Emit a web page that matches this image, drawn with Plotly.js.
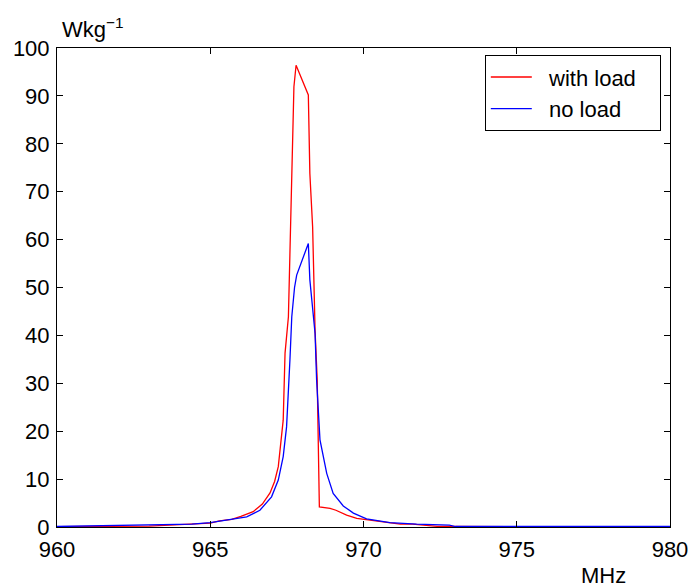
<!DOCTYPE html>
<html>
<head>
<meta charset="utf-8">
<script src="https://cdn.plot.ly/plotly-3.0.1.min.js"></script>
<style>html,body{margin:0;padding:0;background:#fff;}#chart{width:694px;height:587px;}</style>
</head>
<body>
<div id="chart"></div>
<script>
var freqWithLoad = [960, 963.0, 964.0, 965.0, 965.3, 965.7, 966.0, 966.4, 966.7, 966.95, 967.1, 967.22, 967.38, 967.44, 967.55, 967.6, 967.63, 967.66, 967.71, 967.73, 967.8, 968.2, 968.25, 968.34, 968.42, 968.49, 968.56, 968.91, 969.1, 969.45, 969.78, 970.0, 970.65, 971.2, 971.6, 972.4, 972.8, 980];
var powerWithLoad = [0.05, 0.2, 0.5, 0.8, 1.3, 1.6, 2.2, 3.2, 4.8, 7.1, 9.5, 12.6, 22.3, 36.3, 43.9, 55.7, 64.1, 73.1, 82.2, 91.9, 96.4, 90.2, 73.8, 62.7, 41, 30.7, 4.2, 3.9, 3.5, 2.5, 1.8, 1.6, 1.1, 0.6, 0.6, 0.15, 0.1, 0.05];

var freqNoLoad = [960, 963, 964.4, 965, 965.64, 966.19, 966.62, 967.0, 967.22, 967.38, 967.49, 967.55, 967.6, 967.66, 967.75, 967.82, 968.2, 968.25, 968.34, 968.42, 968.47, 968.58, 968.8, 969.01, 969.34, 969.67, 970.1, 970.5, 970.86, 971.73, 972.8, 973, 980];
var powerNoLoad = [0.1, 0.4, 0.6, 0.9, 1.5, 2.1, 3.5, 6.3, 9.8, 14.7, 20.9, 27.2, 34.9, 43.9, 50, 52.6, 59.2, 51.6, 46, 40.4, 30.7, 18.2, 11.2, 7, 4.4, 2.9, 1.7, 1.2, 0.9, 0.6, 0.4, 0.1, 0.1];

var seriesNames = ['with load', 'no load'];
var xTicks = [960, 965, 970, 975, 980];
var yTicks = [0, 10, 20, 30, 40, 50, 60, 70, 80, 90, 100];

var font = {family: 'Liberation Sans, Arial, sans-serif', size: 22, color: '#000'};
var legendFont = {family: 'Liberation Sans, Arial, sans-serif', size: 22, color: '#000'};
var pad = '\u00a0\u00a0';
var tail = '\u00a0\u00a0\u00a0';

var traces = [
  {x: freqWithLoad, y: powerWithLoad, mode: 'lines', name: pad + seriesNames[0] + tail, line: {color: '#ff0000', width: 1.3}},
  {x: freqNoLoad, y: powerNoLoad, mode: 'lines', name: pad + seriesNames[1], line: {color: '#0000ff', width: 1.3}}
];

var axisCommon = {
  showgrid: false, zeroline: false, showline: true, linecolor: '#000', linewidth: 1,
  mirror: 'ticks', ticks: 'inside', ticklen: 6, tickcolor: '#000', tickwidth: 1,
  tickfont: font
};

var layout = {
  width: 694, height: 587,
  margin: {l: 57, r: 24, t: 48, b: 60},
  paper_bgcolor: '#fff', plot_bgcolor: '#fff',
  font: font,
  xaxis: Object.assign({}, axisCommon, {range: [960, 980], tickvals: xTicks, ticktext: xTicks.map(String), ticklabelstandoff: 3}),
  yaxis: Object.assign({}, axisCommon, {range: [0, 100], tickvals: yTicks, ticktext: yTicks.map(String), ticklabelstandoff: 2}),
  showlegend: true,
  legend: {x: 0.985, y: 0.985, xanchor: 'right', yanchor: 'top', bgcolor: '#fff', bordercolor: '#000', borderwidth: 1, font: legendFont, tracegroupgap: 0, itemwidth: 41},
  annotations: [
    {text: 'Wkg<sup>−1</sup>', xref: 'paper', yref: 'paper', x: 0.005, y: 1, xanchor: 'left', yanchor: 'bottom', yshift: 4, showarrow: false, font: font},
    {text: 'MHz', xref: 'paper', yref: 'paper', x: 0.892, y: 0, xanchor: 'center', yanchor: 'top', yshift: -34, showarrow: false, font: font}
  ]
};

Plotly.newPlot('chart', traces, layout, {displayModeBar: false, staticPlot: true});
</script>
</body>
</html>
